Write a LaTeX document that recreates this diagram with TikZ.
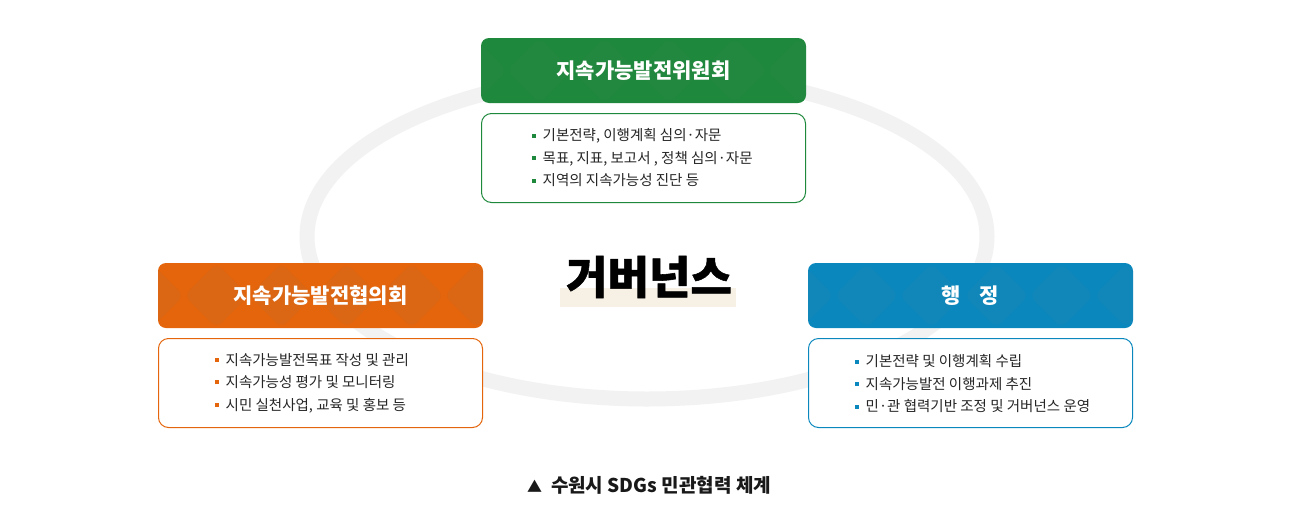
\documentclass[tikz,border=0pt]{standalone}
\usepackage{fontspec}
\newfontfamily\kr{Noto Sans CJK KR}
\newfontfamily\krh{Noto Sans CJK KR}[BoldFeatures={FakeBold=1.2}]
\usetikzlibrary{calc}
\definecolor{cgreen}{RGB}{30,137,60}
\definecolor{corange}{RGB}{228,101,12}
\definecolor{cblue}{RGB}{10,136,190}
\definecolor{ringgray}{RGB}{242,242,242}
\definecolor{beige}{RGB}{247,241,229}
\newcommand{\bul}[1]{\textcolor{#1}{\rule[3.3pt]{4pt}{4pt}}\hspace{7pt}}
\tikzset{
  header/.style={rounded corners=8pt, minimum width=325pt, minimum height=65pt, inner sep=0pt,
    text=white, font=\kr\bfseries\fontsize{21}{24}\selectfont, fill=#1,
    path picture={
      \foreach \i in {-1,...,5}{
        \fill[white, opacity=0.035]
          ($(path picture bounding box.west)+(\i*65+26,0)$) -- ++(32.5,-32.5) -- ++(32.5,32.5) -- ++(-32.5,32.5) -- cycle;
        \fill[black, opacity=0.035]
          ($(path picture bounding box.north west)+(\i*65+58.5,0)$) -- ++(32.5,32.5) -- ++(-32.5,32.5) -- ++(-32.5,-32.5) -- cycle;
      }
    }},
  detail/.style={draw=#1, line width=1pt, rounded corners=10pt, minimum width=324pt, minimum height=89pt, fill=white, inner sep=0pt},
  items/.style={anchor=west, align=left, inner sep=0pt, font=\kr\fontsize{14.5}{22.5}\selectfont, text=black!85}
}
\begin{document}
\begin{tikzpicture}[x=1pt,y=-1pt]
\useasboundingbox[fill=white] (0,0) rectangle (1300,525);
\draw[line width=15pt, ringgray] (647,236.5) ellipse [x radius=340pt, y radius=162.5pt];

\node[header=cgreen] (gh) at (643.5,70.5) {지속가능발전위원회};
\node[detail=cgreen] (gd) at (643.5,158) {};
\node[items] (gt) at (531.5,158) {\bul{cgreen}기본전략, 이행계획 심의·자문\\\bul{cgreen}목표, 지표, 보고서 , 정책 심의·자문\\\bul{cgreen}지역의 지속가능성 진단 등};

\node[header=corange] (oh) at (320.5,295.5) {지속가능발전협의회};
\node[detail=corange] (od) at (320.5,383) {};
\node[items] (ot) at (214.5,383) {\bul{corange}지속가능발전목표 작성 및 관리\\\bul{corange}지속가능성 평가 및 모니터링\\\bul{corange}시민 실천사업, 교육 및 홍보 등};

\node[header=cblue] (bh) at (970.5,295.5) {행\hspace{19pt}정};
\node[detail=cblue] (bd) at (970.5,383) {};
\node[items] (bt) at (854.5,384) {\bul{cblue}기본전략 및 이행계획 수립\\\bul{cblue}지속가능발전 이행과제 추진\\\bul{cblue}민·관 협력기반 조정 및 거버넌스 운영};

\fill[beige] (560,288) rectangle (736,307);
\node[font=\krh\bfseries\fontsize{45}{50}\selectfont, inner sep=0pt] (gov) at (649,277) {거버넌스};

\node[font=\kr\bfseries\fontsize{19}{22}\selectfont, inner sep=0pt, text=black!90] (cap) at (649,485) {{\fontsize{15}{18}\selectfont▲}\hspace{9pt}수원시 SDGs 민관협력 체계};
\end{tikzpicture}
\end{document}
